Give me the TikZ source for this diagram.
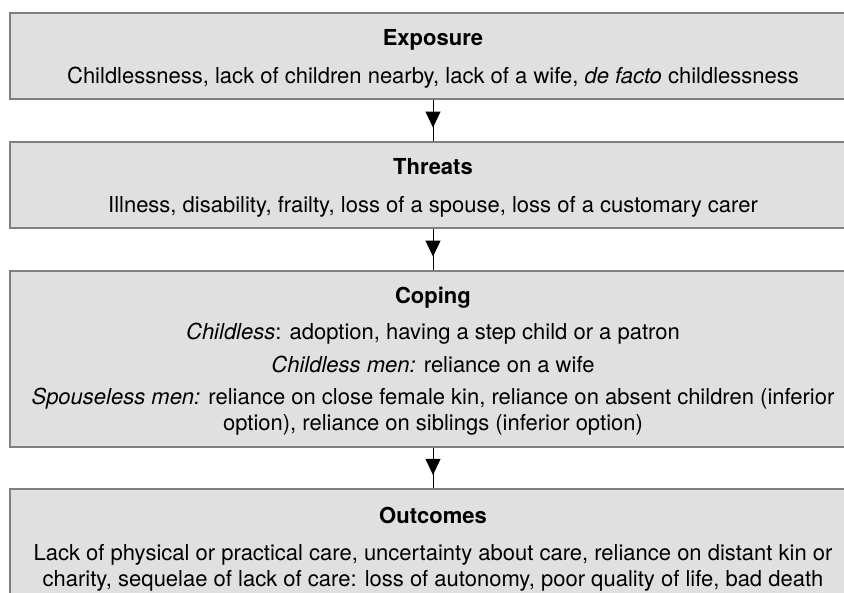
\documentclass[tikz,border=0pt]{standalone}
\usepackage{fontspec}
\setmainfont{TeX Gyre Heros}
\usetikzlibrary{arrows.meta,decorations.markings}
\definecolor{boxfill}{gray}{0.88}
\definecolor{boxline}{gray}{0.5}
\newcommand{\headline}[1]{\rule{0pt}{21pt}\textbf{#1}}

\begin{document}
\begin{tikzpicture}[x=1pt,y=-1pt,
  stage/.style={draw=boxline, line width=1.5pt, fill=boxfill, minimum width=846pt,
    inner sep=0pt, align=center, font=\fontsize{22}{26}\selectfont},
  flow/.style={line width=1pt, postaction={decorate},
    decoration={markings, mark=at position 0.67 with {\arrow{Triangle[length=16pt,width=15pt]}}}}]
\useasboundingbox (0,0) rectangle (844,593);
\clip (0,0) rectangle (844,593);

\node[stage, minimum height=86pt] (exposure) at (433,56) {\headline{Exposure}\\[12pt]
  Childlessness, lack of children nearby, lack of a wife, \textit{de facto} childlessness};

\node[stage, minimum height=86pt] (threats) at (433,185) {\headline{Threats}\\[12pt]
  Illness, disability, frailty, loss of a spouse, loss of a customary carer};

\node[stage, minimum height=176pt] (coping) at (433,359) {\headline{Coping}\\[10pt]
  \textit{Childless}: adoption, having a step child or a patron\\[7pt]
  \textit{Childless men:} reliance on a wife\\[6pt]
  \textit{Spouseless men:} reliance on close female kin, reliance on absent children (inferior\\
  option), reliance on siblings (inferior option)};

\node[stage, minimum height=116pt] (outcomes) at (433,547) {\headline{Outcomes}\\[11pt]
  Lack of physical or practical care, uncertainty about care, reliance on distant kin or\\
  charity, sequelae of lack of care: loss of autonomy, poor quality of life, bad death};

\draw[flow](exposure) -- (threats);
\draw[flow](threats) -- (coping);
\draw[flow](coping) -- (outcomes);

\end{tikzpicture}
\end{document}
